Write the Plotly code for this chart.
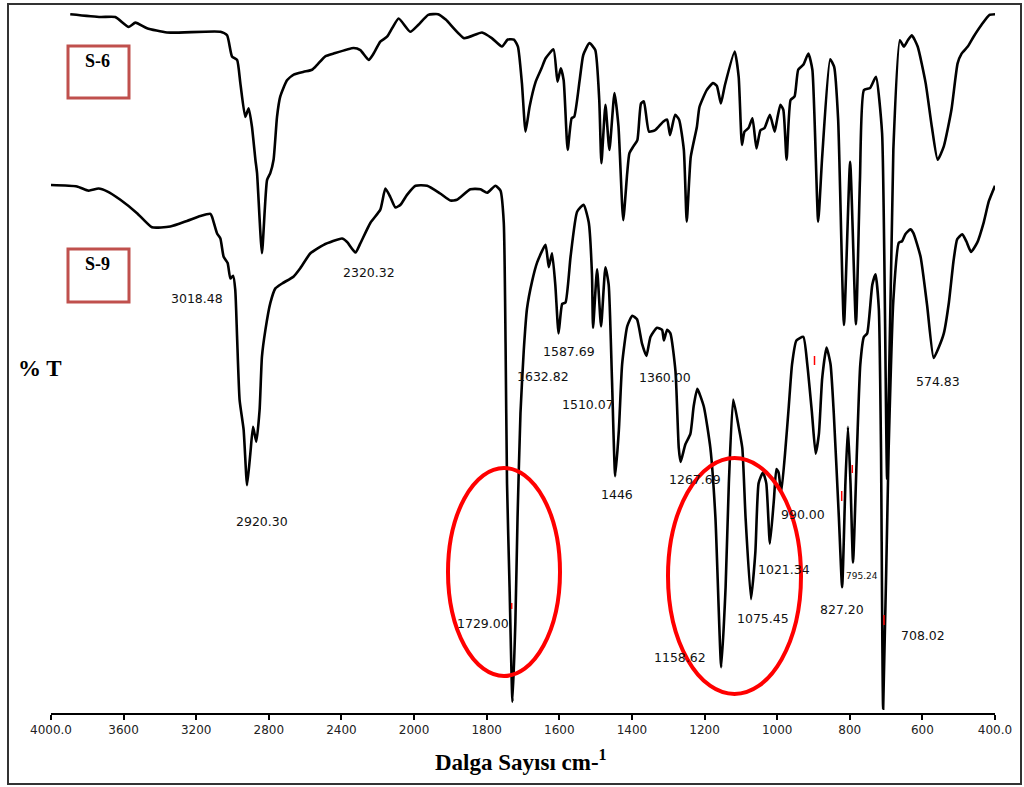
import plotly.graph_objects as go

# ---------------- data (wavenumber in cm-1, transmittance in %T, arbitrary offset scale) ----------------
s6_wn = [3894, 3728, 3646, 3572, 3535, 3471, 3361, 3067, 3030, 3003, 2975, 2957, 2930, 2911, 2893, 2874,
         2865, 2838, 2810, 2792, 2774, 2755, 2737, 2700, 2663, 2608, 2562, 2534, 2489, 2443, 2333, 2296,
         2250, 2223, 2186, 2149, 2121, 2085, 2021, 1988, 1961, 1934, 1912, 1862, 1813, 1786, 1758, 1742,
         1725, 1714, 1703, 1693, 1682, 1665, 1649, 1638, 1616, 1605, 1596, 1588, 1577, 1566, 1559, 1544,
         1534, 1517, 1501, 1490, 1484, 1473, 1462, 1448, 1437, 1424, 1413, 1407, 1396, 1385, 1375, 1367,
         1353, 1336, 1314, 1303, 1295, 1281, 1270, 1257, 1249, 1238, 1221, 1214, 1194, 1177, 1166, 1155,
         1144, 1117, 1106, 1097, 1090, 1079, 1068, 1057, 1046, 1035, 1020, 1007, 1002, 991, 983, 974,
         963, 952, 942, 928, 914, 903, 887, 876, 854, 843, 832, 816, 799, 783, 772, 761, 744, 728, 711,
         697, 680, 662, 651, 640, 629, 613, 591, 574, 558, 541, 520, 503, 492, 475, 459, 437, 415, 400]
s6_t = [99.4, 99.0, 99.0, 97.6, 98.2, 97.4, 96.8, 96.9, 96.4, 93.4, 92.9, 89.6, 84.8, 86.0, 83.4, 78.7,
        76.8, 65.4, 75.8, 76.8, 78.7, 84.8, 87.7, 90.0, 90.8, 91.2, 91.5, 92.2, 93.4, 93.8, 94.6, 94.3,
        92.9, 93.8, 95.5, 96.2, 97.4, 98.8, 96.9, 97.9, 99.3, 99.4, 98.6, 96.0, 96.8, 96.0, 94.8, 95.8,
        95.8, 94.8, 89.6, 82.7, 86.2, 89.8, 91.7, 93.1, 94.4, 89.8, 91.7, 90.0, 80.1, 84.6, 84.8, 90.0,
        93.6, 95.3, 94.3, 87.2, 78.2, 86.5, 80.1, 88.2, 83.4, 70.1, 76.8, 79.6, 80.6, 81.5, 86.7, 87.0,
        82.7, 82.9, 84.1, 84.4, 82.2, 85.1, 84.4, 80.1, 69.9, 79.1, 83.4, 86.2, 88.6, 89.6, 89.2, 86.7,
        89.3, 94.1, 90.5, 80.8, 82.7, 83.2, 84.6, 80.3, 82.9, 83.2, 85.1, 82.7, 83.9, 86.5, 85.8, 78.7,
        87.2, 87.7, 91.5, 92.2, 93.8, 91.5, 69.9, 79.1, 93.0, 91.9, 84.4, 55.2, 78.4, 55.3, 75.8, 88.6,
        88.9, 90.5, 82.5, 33.3, 80.1, 95.7, 94.8, 95.7, 96.4, 94.8, 89.6, 83.4, 78.7, 80.6, 85.8, 92.4,
        93.8, 94.8, 96.2, 97.9, 99.3, 99.4]

s9_wn = [4000, 3857, 3793, 3738, 3691, 3618, 3526, 3444, 3343, 3251, 3177, 3122, 3113, 3085, 3067, 3049,
         3027, 3012, 2997, 2985, 2975, 2961, 2939, 2920, 2902, 2887, 2869, 2851, 2838, 2819, 2792, 2764,
         2727, 2663, 2626, 2571, 2498, 2397, 2369, 2323, 2296, 2241, 2186, 2158, 2131, 2103, 2075, 2039,
         1996, 1964, 1928, 1900, 1882, 1845, 1817, 1799, 1776, 1762, 1753, 1748, 1744, 1737, 1729, 1721,
         1715, 1707, 1698, 1689, 1675, 1661, 1638, 1629, 1620, 1611, 1602, 1592, 1583, 1569, 1551, 1533,
         1519, 1510, 1507, 1496, 1485, 1473, 1464, 1455, 1446, 1436, 1427, 1413, 1399, 1386, 1372, 1360,
         1349, 1331, 1317, 1312, 1303, 1294, 1280, 1271, 1266, 1253, 1239, 1230, 1220, 1202, 1184, 1170,
         1154, 1142, 1133, 1121, 1106, 1096, 1087, 1072, 1060, 1051, 1039, 1030, 1020, 1009, 1002, 996,
         989, 977, 968, 959, 947, 928, 917, 904, 894, 885, 876, 864, 853, 844, 830, 821, 812, 805, 798,
         791, 780, 771, 761, 752, 738, 729, 720, 714, 708, 693, 680, 665, 656, 647, 633, 625, 605, 587,
         569, 555, 541, 527, 514, 504, 490, 479, 466, 449, 431, 417, 400]
s9_t = [75.1, 74.9, 74.3, 74.6, 74.2, 73.0, 71.1, 69.1, 69.2, 70.0, 70.7, 71.0, 70.6, 68.2, 67.5, 64.9,
        64.0, 61.8, 62.2, 60.2, 53.5, 44.5, 40.3, 32.4, 36.9, 40.7, 38.6, 43.1, 50.7, 54.5, 58.3, 60.4,
        61.1, 62.1, 63.3, 65.4, 66.6, 67.5, 67.0, 65.5, 66.8, 69.7, 71.6, 74.6, 73.4, 71.9, 72.3, 73.7,
        75.0, 75.0, 73.9, 72.9, 73.0, 74.5, 74.5, 74.0, 75.0, 74.3, 69.8, 52.5, 32.7, 17.9, 1.6, 13.0,
        27.8, 42.6, 51.5, 57.5, 61.4, 64.1, 66.6, 63.4, 65.4, 60.9, 54.0, 58.2, 58.4, 64.9, 71.3, 72.3,
        69.8, 62.4, 54.8, 63.1, 55.0, 63.4, 60.9, 47.6, 33.7, 40.2, 49.6, 55.0, 56.5, 56.0, 52.5, 50.8,
        53.5, 54.8, 54.5, 53.0, 54.5, 54.0, 48.6, 37.7, 35.7, 38.2, 39.7, 43.6, 46.1, 43.6, 37.7, 27.8,
        6.5, 17.9, 32.7, 44.6, 40.7, 37.7, 27.8, 16.2, 22.9, 32.7, 34.2, 32.7, 24.1, 30.3, 34.7, 34.2,
        31.3, 37.7, 43.6, 49.6, 53.0, 53.5, 49.6, 42.6, 36.9, 39.7, 47.6, 52.0, 49.6, 42.6, 27.8, 17.9,
        32.7, 40.7, 32.7, 21.4, 37.7, 49.6, 53.5, 54.0, 60.9, 62.4, 57.5, 37.7, 0.6, 37.4, 58.7, 66.9,
        67.1, 68.1, 68.8, 68.3, 64.9, 58.0, 50.5, 52.0, 54.0, 58.4, 64.4, 67.4, 68.1, 67.1, 65.6, 66.9,
        69.8, 72.8, 75.0]

tick_wn = [4000, 3600, 3200, 2800, 2400, 2000, 1800, 1600, 1400, 1200, 1000, 800, 600, 400]
tick_text = ["4000.0", "3600", "3200", "2800", "2400", "2000", "1800", "1600", "1400", "1200",
             "1000", "800", "600", "400.0"]

peak_labels = ["3018.48", "2920.30", "2320.32", "1632.82", "1587.69", "1510.07", "1446", "1360.00",
               "1267.69", "1729.00", "1158.62", "1075.45", "1021.34", "990.00", "827.20", "795.24",
               "708.02", "574.83"]
sample_names = ["S-6", "S-9"]


# ---------------- axis: FTIR scale, compressed above 2000 cm-1 ----------------
def axis_pos(w):
    return (4000 - w) / 400.0 if w >= 2000 else 5 + (2000 - w) / 200.0


W, H = 1024, 787
ML, MR, MT, MB = 51, 29, 10, 74
PW, PH = W - ML - MR, H - MT - MB


def px(x):  # pixel -> paper
    return (x - ML) / PW


def py(y):
    return (H - MB - y) / PH


fig = go.Figure()
for wn, t in [(s6_wn, s6_t), (s9_wn, s9_t)]:
    fig.add_trace(go.Scatter(x=[axis_pos(w) for w in wn], y=t, mode="lines",
                             line=dict(color="#000000", width=2.6, shape="spline", smoothing=0.5),
                             hoverinfo="skip", showlegend=False))

label_pos = [(197, 298), (262, 521), (369, 272), (543, 376), (569, 351), (588, 404), (617, 494),
             (665, 377), (695, 479), (483, 623), (680, 657), (763, 618), (784, 569), (803, 514),
             (842, 609), (862, 576), (923, 635), (938, 381)]


def note(x, y, text, size, family="DejaVu Sans", color="#111111"):
    return dict(x=px(x), y=py(y), xref="paper", yref="paper", text=text, showarrow=False,
                xanchor="center", yanchor="middle", font=dict(family=family, size=size, color=color))


annotations = []
for text, (x, y) in zip(peak_labels, label_pos):
    annotations.append(note(x, y, text, 9 if text == "795.24" else 12.5))

# sample boxes
box_pos = [(68, 46, 129, 98), (68, 249, 129, 302)]
shapes = []
for name, (x0, y0, x1, y1) in zip(sample_names, box_pos):
    shapes.append(dict(type="rect", xref="paper", yref="paper", x0=px(x0), x1=px(x1), y0=py(y0),
                       y1=py(y1), line=dict(color="#c0504d", width=3)))
    annotations.append(note(97, y0 + 15, "<b>%s</b>" % name, 18, "Liberation Serif", "#000000"))

# red ellipses
for (x0, y0, x1, y1) in [(448, 468, 560, 676), (668, 458, 801, 694)]:
    shapes.append(dict(type="circle", xref="paper", yref="paper", x0=px(x0), x1=px(x1), y0=py(y0),
                       y1=py(y1), line=dict(color="#ff0000", width=4)))

# small red marks
for (x, y0, y1) in [(814.5, 356, 365), (852.3, 465, 473), (841.7, 491, 501), (884, 615, 625), (511.7, 603, 609)]:
    shapes.append(dict(type="line", xref="paper", yref="paper", x0=px(x), x1=px(x), y0=py(y0), y1=py(y1),
                       line=dict(color="#ff0000", width=1.5)))

# outer frame
shapes.append(dict(type="rect", xref="paper", yref="paper", x0=px(8), x1=px(1021), y0=py(4), y1=py(784),
                   line=dict(color="#333333", width=2), layer="below"))

annotations.append(note(40, 368, "<b>% T</b>", 23, "Liberation Serif", "#000000"))
annotations.append(note(521, 760, "<b>Dalga Sayısı cm-<sup>1</sup></b>", 23, "Liberation Serif", "#000000"))

fig.update_layout(
    width=W, height=H, margin=dict(l=ML, r=MR, t=MT, b=MB),
    paper_bgcolor="white", plot_bgcolor="white",
    xaxis=dict(range=[0, 13], tickmode="array", tickvals=[axis_pos(w) for w in tick_wn], ticktext=tick_text,
               showgrid=False, zeroline=False, showline=True, linecolor="#000000", linewidth=1.5,
               ticks="outside", ticklen=5, tickwidth=1.5, tickcolor="#000000",
               tickfont=dict(family="DejaVu Sans", size=12, color="#222222")),
    yaxis=dict(range=[0, 100], visible=False),
    annotations=annotations, shapes=shapes,
)

fig.write_html("out.html", config={"displayModeBar": False},
               post_script="document.body.style.margin='0';")
